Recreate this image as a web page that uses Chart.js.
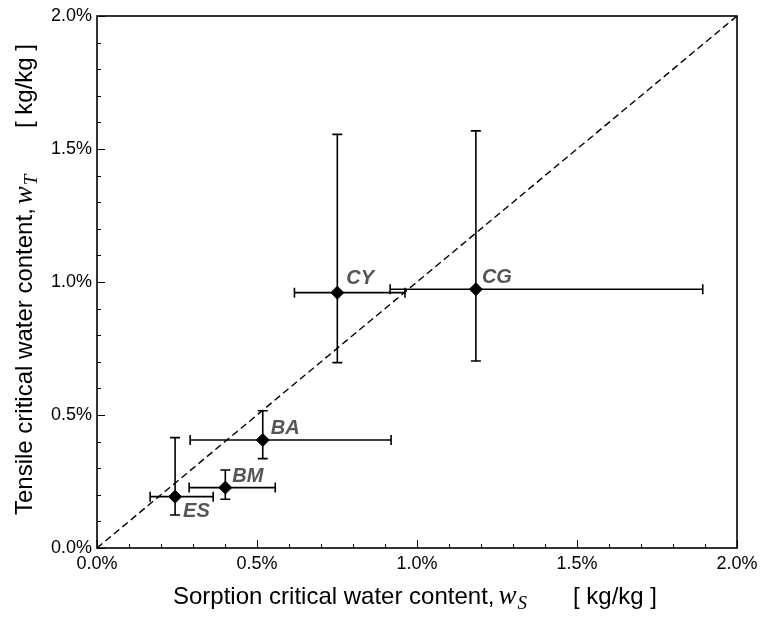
<html>
<head>
<style>
  body { margin: 0; background: #fff; }
  canvas { display: block; }
</style>
</head>
<body>
<canvas id="chart" width="760" height="617"></canvas>
<script src="https://cdn.jsdelivr.net/npm/chart.js"></script>
<script>
"use strict";

// sample names and values, in % (kg/kg)
const sampleNames = ['CY', 'CG', 'BA', 'BM', 'ES'];
const sorption     = [0.751, 1.184, 0.518, 0.401, 0.244];
const sorptionLow  = [0.617, 0.916, 0.291, 0.288, 0.166];
const sorptionHigh = [0.9625, 1.893, 0.919, 0.557, 0.363];
const tensile      = [0.960, 0.973, 0.406, 0.227, 0.193];
const tensileLow   = [0.697, 0.703, 0.336, 0.183, 0.124];
const tensileHigh  = [1.555, 1.568, 0.516, 0.293, 0.415];

// 1:1 line
const diagonalX = [0, 2];
const diagonalY = [0, 2];

// label placement (dx, dy from the point, left / baseline)
const labelOffsets = { CY: [9, -9], CG: [6, -6], BA: [8, -6], BM: [7, -6], ES: [8, 20] };

const sans = "'Liberation Sans', Arial, sans-serif";
const serif = "'Liberation Serif', 'Times New Roman', serif";

function isMajor(v) { return Math.abs(v * 2 - Math.round(v * 2)) < 1e-6; }
function tickLabel(v) { return isMajor(v) ? v.toFixed(1) + '%' : ''; }

// axis title: text, math symbol, subscript, unit; unitAt = distance of the unit from the start
function axisTitle(ctx, text, sub, unitAt) {
  ctx.font = "24px " + sans;
  ctx.fillText(text, 0, 0);
  let cx = ctx.measureText(text).width + 4;
  ctx.font = "italic 27px " + serif;
  ctx.fillText('w', cx, 0);
  cx += ctx.measureText('w').width + 1;
  ctx.font = "italic 19px " + serif;
  ctx.fillText(sub, cx, 5);
  ctx.font = "24px " + sans;
  ctx.fillText('[ kg/kg ]', unitAt, 0);
}

const decor = {
  id: 'decor',
  beforeDatasetsDraw(chart) {
    const ctx = chart.ctx;
    const xs = chart.scales.x, ys = chart.scales.y;
    ctx.save();
    ctx.strokeStyle = '#000';
    ctx.lineWidth = 1.6;
    const cap = 5;
    for (let i = 0; i < sampleNames.length; i++) {
      const px = xs.getPixelForValue(sorption[i]);
      const py = ys.getPixelForValue(tensile[i]);
      const x0 = xs.getPixelForValue(sorptionLow[i]);
      const x1 = xs.getPixelForValue(sorptionHigh[i]);
      const y0 = ys.getPixelForValue(tensileLow[i]);
      const y1 = ys.getPixelForValue(tensileHigh[i]);
      ctx.beginPath();
      ctx.moveTo(x0, py); ctx.lineTo(x1, py);
      ctx.moveTo(x0, py - cap); ctx.lineTo(x0, py + cap);
      ctx.moveTo(x1, py - cap); ctx.lineTo(x1, py + cap);
      ctx.moveTo(px, y0); ctx.lineTo(px, y1);
      ctx.moveTo(px - cap, y0); ctx.lineTo(px + cap, y0);
      ctx.moveTo(px - cap, y1); ctx.lineTo(px + cap, y1);
      ctx.stroke();
    }
    ctx.restore();
  },
  afterDraw(chart) {
    const ctx = chart.ctx;
    const a = chart.chartArea;
    const xs = chart.scales.x, ys = chart.scales.y;
    ctx.save();
    ctx.strokeStyle = '#000';
    ctx.lineWidth = 1.6;
    ctx.strokeRect(a.left, a.top, a.right - a.left, a.bottom - a.top);

    // inward ticks on bottom and left
    ctx.lineWidth = 1;
    ctx.beginPath();
    xs.ticks.forEach(t => {
      const p = Math.round(xs.getPixelForValue(t.value)) + 0.5;
      const len = isMajor(t.value) ? 8 : 4;
      ctx.moveTo(p, a.bottom); ctx.lineTo(p, a.bottom - len);
    });
    ys.ticks.forEach(t => {
      const p = Math.round(ys.getPixelForValue(t.value)) + 0.5;
      const len = isMajor(t.value) ? 8 : 4;
      ctx.moveTo(a.left, p); ctx.lineTo(a.left + len, p);
    });
    ctx.stroke();

    // sample labels
    ctx.fillStyle = '#555';
    ctx.font = "italic bold 20px " + sans;
    ctx.textBaseline = 'alphabetic';
    ctx.textAlign = 'left';
    sampleNames.forEach((n, i) => {
      const px = xs.getPixelForValue(sorption[i]);
      const py = ys.getPixelForValue(tensile[i]);
      const off = labelOffsets[n];
      ctx.fillText(n, px + off[0], py + off[1]);
    });

    // axis titles
    ctx.fillStyle = '#000';
    ctx.save();
    ctx.translate(173, 604);
    axisTitle(ctx, 'Sorption critical water content,', 'S', 400);
    ctx.restore();
    ctx.translate(32, 515);
    ctx.rotate(-Math.PI / 2);
    axisTitle(ctx, 'Tensile critical water content,', 'T', 387);
    ctx.restore();
  }
};

const tickFont = { family: sans, size: 18 };

new Chart(document.getElementById('chart'), {
  data: {
    datasets: [{
      type: 'scatter',
      data: sorption.map((x, i) => ({ x: x, y: tensile[i] })),
      pointStyle: 'rectRot',
      pointRadius: 6.5,
      pointHoverRadius: 6.5,
      backgroundColor: '#000',
      borderColor: '#000',
      order: 0
    }, {
      type: 'line',
      data: diagonalX.map((x, i) => ({ x: x, y: diagonalY[i] })),
      borderColor: '#000',
      borderWidth: 1.4,
      borderDash: [7, 4],
      pointRadius: 0,
      fill: false,
      order: 1
    }]
  },
  options: {
    responsive: false,
    animation: false,
    devicePixelRatio: 1,
    layout: { padding: 0 },
    plugins: { legend: { display: false }, tooltip: { enabled: false } },
    scales: {
      x: {
        type: 'linear', min: 0, max: 2,
        grid: { display: false, drawTicks: false },
        border: { display: false },
        ticks: { stepSize: 0.1, autoSkip: false, maxRotation: 0, padding: 5, color: '#000', font: tickFont, callback: tickLabel },
        afterFit(s) { s.height = 69; s.paddingRight = 23; s.paddingLeft = 0; }
      },
      y: {
        type: 'linear', min: 0, max: 2,
        grid: { display: false, drawTicks: false },
        border: { display: false },
        ticks: { stepSize: 0.1, autoSkip: false, padding: 5, color: '#000', font: tickFont, callback: tickLabel },
        afterFit(s) { s.width = 97; s.paddingTop = 16; s.paddingBottom = 0; }
      }
    }
  },
  plugins: [decor]
});
</script>
</body>
</html>
